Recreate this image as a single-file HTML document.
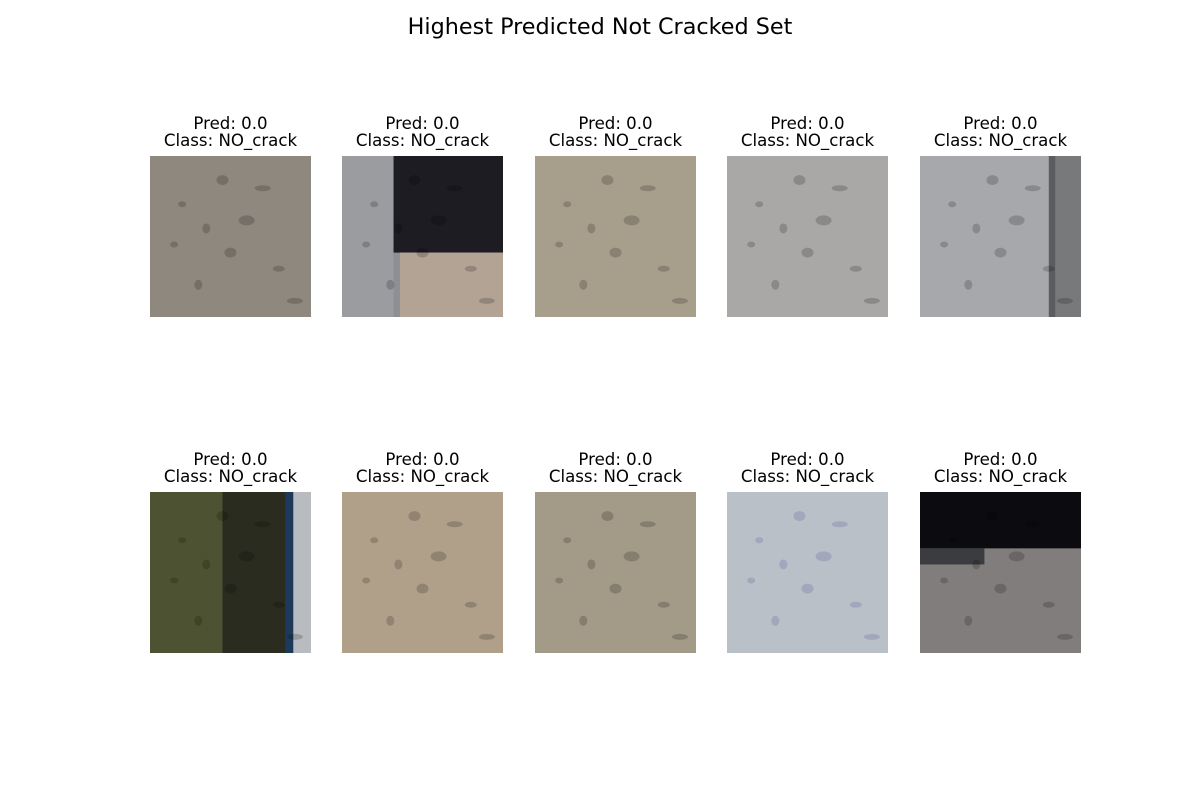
<!DOCTYPE html>
<html><head><meta charset="utf-8"><style>
body{margin:0;background:#fff;}
svg text{font-family:"DejaVu Sans","Liberation Sans",sans-serif;}
</style></head><body>
<svg id="fig" width="1200" height="800" viewBox="0 0 1200 800" xmlns="http://www.w3.org/2000/svg">
<rect width="1200" height="800" fill="#fff"/>
<text x="600" y="34" text-anchor="middle" font-size="22.3" fill="#000">Highest Predicted Not Cracked Set</text>
<g id="panels"></g>
</svg>
<script>
const preds=[0.0,0.0,0.0,0.0,0.0,0.0,0.0,0.0,0.0,0.0];
const classes=["NO_crack","NO_crack","NO_crack","NO_crack","NO_crack","NO_crack","NO_crack","NO_crack","NO_crack","NO_crack"];
const NS="http://www.w3.org/2000/svg";
const colX=[150,342,535,727,920], rowY=[156,492], S=161;
const looks=[
 {base:"#8f887e",parts:[]},
 {base:"#8e8f94",parts:[[0.32,0,0.68,0.6,"#1c1c22"],[0.36,0.6,0.64,0.4,"#b3a394"],[0,0,0.32,1,"#9a9ca0"]]},
 {base:"#a89e8c",parts:[]},
 {base:"#a9a8a6",parts:[]},
 {base:"#a6a8ab",parts:[[0.8,0,0.2,1,"#5a5c5e"],[0.84,0,0.16,1,"#77797b"]]},
 {base:"#2a2c20",parts:[[0,0,0.45,1,"#4d5332"],[0.88,0,0.12,1,"#b8bcc0"],[0.84,0,0.05,1,"#1e3a5a"]]},
 {base:"#b0a08a",parts:[]},
 {base:"#a39a88",parts:[]},
 {base:"#b9c0c8",parts:[]},
 {base:"#807d7c",parts:[[0,0,1,0.35,"#0c0c10"],[0,0.35,0.4,0.1,"#3a3c40"]]}
];
const seedDots=[[0.2,0.3],[0.5,0.6],[0.7,0.2],[0.3,0.8],[0.8,0.7],[0.6,0.4],[0.15,0.55],[0.45,0.15],[0.9,0.9],[0.35,0.45]];
const g=document.getElementById('panels');
preds.forEach((p,i)=>{
 const x=colX[i%5], y=rowY[Math.floor(i/5)];
 const grp=document.createElementNS(NS,'g');
 
 
 const t1=document.createElementNS(NS,'text');
 
 
 t1.setAttribute('x',x+S/2);t1.setAttribute('y',y-27);t1.setAttribute('text-anchor','middle');t1.setAttribute('font-size','16.6');
 t1.textContent='Pred: '+p.toFixed(1);
 const t2=document.createElementNS(NS,'text');
 
 
 t2.setAttribute('x',x+S/2);t2.setAttribute('y',y-10);t2.setAttribute('text-anchor','middle');t2.setAttribute('font-size','16.6');
 t2.textContent='Class: '+classes[i];
 grp.appendChild(t1);grp.appendChild(t2);
 const L=looks[i];
 const r=document.createElementNS(NS,'rect');
 
 
 r.setAttribute('x',x);r.setAttribute('y',y);r.setAttribute('width',S);r.setAttribute('height',S);r.setAttribute('fill',L.base);
 grp.appendChild(r);
 L.parts.forEach(pt=>{
  const q=document.createElementNS(NS,'rect');
  q.setAttribute('x',x+pt[0]*S);q.setAttribute('y',y+pt[1]*S);q.setAttribute('width',pt[2]*S);q.setAttribute('height',pt[3]*S);q.setAttribute('fill',pt[4]);
  grp.appendChild(q);
 });
 seedDots.forEach((d,k)=>{
  const c=document.createElementNS(NS,'ellipse');
  c.setAttribute('cx',x+d[0]*S);c.setAttribute('cy',y+d[1]*S);c.setAttribute('rx',4+(k%3)*2);c.setAttribute('ry',3+(k%2)*2);
  c.setAttribute('fill',i===8?'#3a3f80':'#000');c.setAttribute('opacity','0.18');
  grp.appendChild(c);
 });
 g.appendChild(grp);
});
</script>
</body></html>
